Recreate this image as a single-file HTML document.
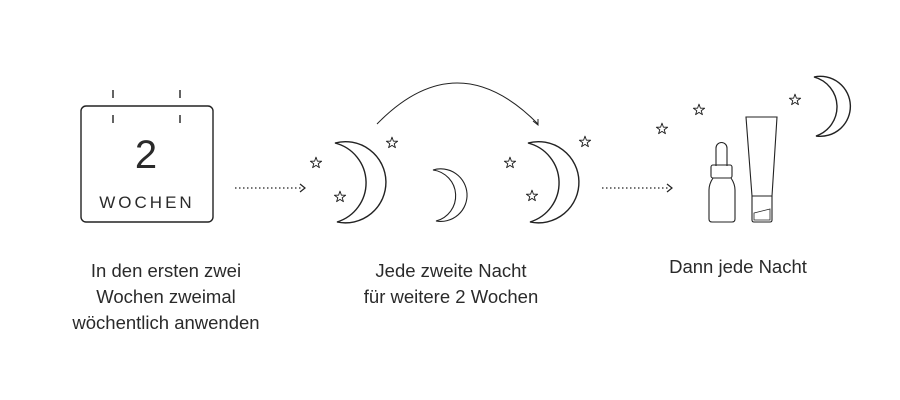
<!DOCTYPE html>
<html><head><meta charset="utf-8"><style>
body{margin:0;background:#fff;width:900px;height:400px;overflow:hidden}
svg{display:block}
text{font-family:"Liberation Sans",sans-serif;fill:#2a2a2a}
</style></head><body>
<svg width="900" height="400" viewBox="0 0 900 400">
<defs>
<symbol id="st" viewBox="-6 -6 12 12"><polygon points="0,-5 1.2,-1.6 4.8,-1.5 1.9,0.6 2.9,4 0,2 -2.9,4 -1.9,0.6 -4.8,-1.5 -1.2,-1.6" fill="none" stroke="#222" stroke-width="0.8" stroke-linejoin="round"/></symbol>
</defs>
<g fill="none" stroke="#222" stroke-width="1.4">
<rect x="81" y="106" width="132" height="116" rx="5"/>
<line x1="113" y1="90" x2="113" y2="98"/><line x1="180" y1="90" x2="180" y2="98"/>
<line x1="113" y1="115" x2="113" y2="123"/><line x1="180" y1="115" x2="180" y2="123"/>
<line x1="235" y1="188" x2="303" y2="188" stroke-dasharray="1.5 2.5" stroke-width="1.2"/>
<polyline points="300,184 305,188 300,192" stroke-width="1.2"/>
<line x1="602" y1="188" x2="670" y2="188" stroke-dasharray="1.5 2.5" stroke-width="1.2"/>
<polyline points="667,184 672,188 667,192" stroke-width="1.2"/>
<path d="M377,124 Q457,42 538,124" stroke-width="1"/>
<polyline points="533,121 538,125 538,119" stroke-width="1"/>
<path d="M335,143 A40.6,40.6 0 1 1 337,222 A41,41 0 0 0 335,143Z"/>
<path d="M528,143 A40.6,40.6 0 1 1 530,222 A41,41 0 0 0 528,143Z"/>
<path d="M433,170 A26.3,26.3 0 1 1 436,221 A26,26 0 0 0 433,170Z" stroke-width="1.1"/>
<path d="M814,77 A30,30 0 1 1 816,136 A30.8,30.8 0 0 0 814,77Z"/>
<g stroke-width="1.1">
<path d="M716,166 V148 A5.5,5.5 0 0 1 727,148 V166"/>
<rect x="711" y="165" width="21" height="13" rx="2"/>
<path d="M713,178 Q709,184 709,190 V219 Q709,222 712,222 H732 Q735,222 735,219 V190 Q735,184 731,178"/>
<path d="M746,117 H777 L772,196 H752 Z"/>
<path d="M752,196 V220 Q752,222 754,222 H770 Q772,222 772,220 V196"/>
<path d="M754,213 L770,209 V220 H754Z" stroke-width="0.8"/>
</g>
</g>
<g>
<use href="#st" x="309" y="156" width="14" height="14"/>
<use href="#st" x="333" y="190" width="14" height="14"/>
<use href="#st" x="385" y="136" width="14" height="14"/>
<use href="#st" x="503" y="156" width="14" height="14"/>
<use href="#st" x="525" y="189" width="14" height="14"/>
<use href="#st" x="578" y="135" width="14" height="14"/>
<use href="#st" x="655" y="122" width="14" height="14"/>
<use href="#st" x="692" y="103" width="14" height="14"/>
<use href="#st" x="788" y="93" width="14" height="14"/>
</g>
<text x="146" y="168" font-size="40" text-anchor="middle">2</text>
<text x="147" y="208" font-size="17" text-anchor="middle" letter-spacing="3">WOCHEN</text>
<g font-size="18.5" text-anchor="middle">
<text x="166" y="277">In den ersten zwei</text>
<text x="166" y="303">Wochen zweimal</text>
<text x="166" y="329">wöchentlich anwenden</text>
<text x="451" y="277">Jede zweite Nacht</text>
<text x="451" y="303">für weitere 2 Wochen</text>
<text x="738" y="273">Dann jede Nacht</text>
</g>
</svg>
</body></html>
